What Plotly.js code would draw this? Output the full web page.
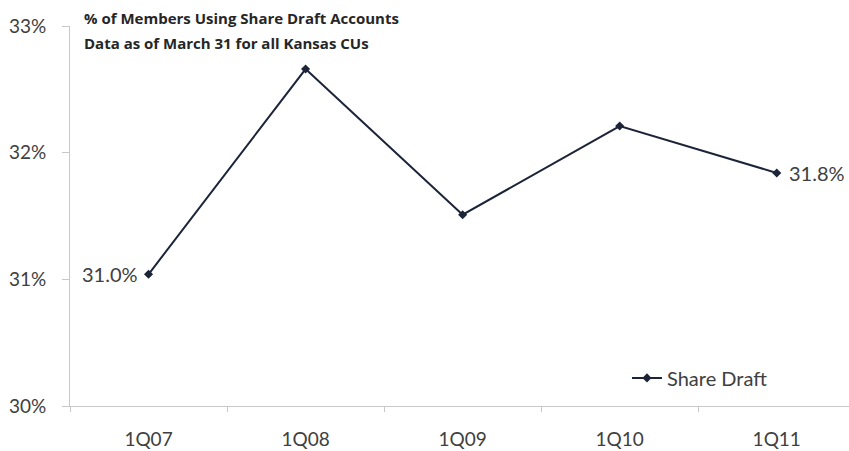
<!DOCTYPE html>
<html>
<head>
<meta charset="utf-8">
<script src="https://cdn.plot.ly/plotly-3.0.1.min.js"></script>
<style>html,body{margin:0;padding:0;background:#fff;}#chart{width:849px;height:451px;}</style>
</head>
<body>
<div id="chart"></div>
<script>
const categories = ["1Q07", "1Q08", "1Q09", "1Q10", "1Q11"];
const shareDraft = [31.04, 32.66, 31.51, 32.21, 31.84];
const yTickVals = [30, 31, 32, 33];
const yTickText = ["30%", "31%", "32%", "33%"];
const labelIndex = [0, 4];
const labelText = ["31.0%", "31.8%"];
const titleLines = ["% of Members Using Share Draft Accounts", "Data as of March 31 for all Kansas CUs"];

const lineColor = "#1c2538";
const fontFam = "Lato, 'Open Sans', sans-serif";
const trace = {
  x: categories,
  y: shareDraft,
  type: "scatter",
  mode: "lines+markers",
  name: "Share Draft",
  line: {color: lineColor, width: 2},
  marker: {symbol: "diamond", size: 7, color: lineColor}
};

const labelAnns = labelIndex.map((idx, k) => ({
  x: categories[idx], y: shareDraft[idx], xref: "x", yref: "y",
  text: labelText[k], showarrow: false,
  xanchor: k === 0 ? "right" : "left", yanchor: "middle",
  xshift: k === 0 ? -9 : 10,
  font: {family: fontFam, size: 20, color: "#404040"}
}));

const layout = {
  width: 849, height: 451,
  margin: {l: 70, r: 0, t: 26, b: 45},
  paper_bgcolor: "#fff", plot_bgcolor: "#fff",
  font: {family: fontFam, color: "#404040"},
  showlegend: true,
  legend: {x: 0.715, y: 0.074, xanchor: "left", yanchor: "middle", bgcolor: "rgba(0,0,0,0)",
           font: {size: 20, color: "#404040"}, itemwidth: 30},
  xaxis: {
    type: "category", range: [-0.5, 4.46],
    showline: true, linecolor: "#c8c8c8", linewidth: 1,
    ticks: "outside", ticklen: 5, tickcolor: "#c8c8c8", tickson: "boundaries",
    ticklabelstandoff: 16,
    tickfont: {size: 19, color: "#404040"}, showgrid: false, zeroline: false
  },
  yaxis: {
    range: [30, 33], tickvals: yTickVals, ticktext: yTickText,
    showline: true, linecolor: "#c8c8c8", linewidth: 1,
    ticks: "outside", ticklen: 7, tickcolor: "#c8c8c8",
    ticklabelstandoff: 12,
    tickfont: {size: 19, color: "#404040"}, showgrid: false, zeroline: false
  },
  annotations: [
    {xref: "paper", yref: "paper", x: 0.015, y: 1.021, xanchor: "left", yanchor: "middle",
     showarrow: false, text: "<b>" + titleLines[0] + "</b>",
     font: {size: 15, color: "#262626", family: "'Open Sans', Lato, sans-serif"}},
    {xref: "paper", yref: "paper", x: 0.015, y: 0.955, xanchor: "left", yanchor: "middle",
     showarrow: false, text: "<b>" + titleLines[1] + "</b>",
     font: {size: 15, color: "#262626", family: "'Open Sans', Lato, sans-serif"}}
  ].concat(labelAnns)
};

Plotly.newPlot("chart", [trace], layout, {displayModeBar: false});
</script>
</body>
</html>
